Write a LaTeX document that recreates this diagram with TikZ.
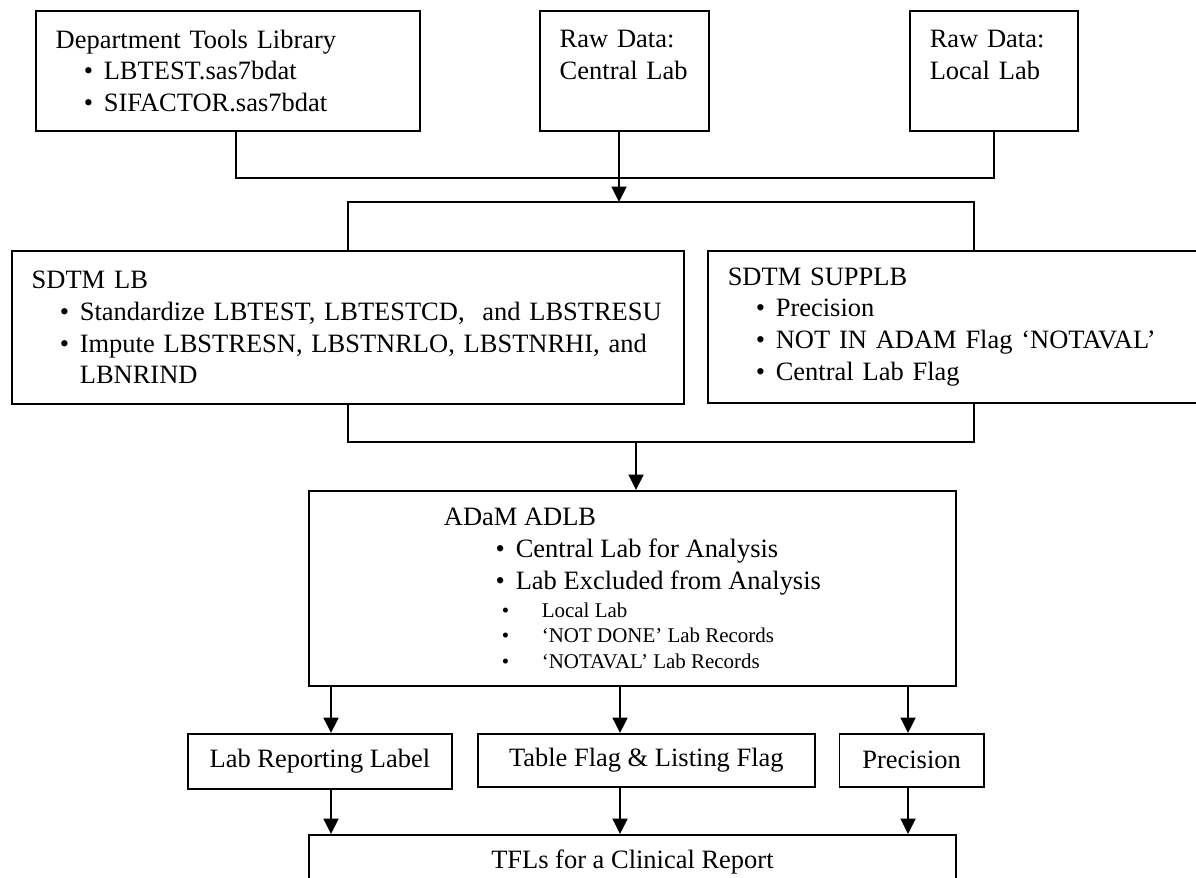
\documentclass[tikz,border=0pt]{standalone}
\usepackage{fontspec}
\setmainfont{Liberation Serif}
\usetikzlibrary{arrows.meta,positioning}
\newcommand{\itm}[2][12.7pt]{\hspace*{#1}\makebox[9.1pt][l]{\textbullet}#2}
\newcommand{\smallfnt}{\fontsize{9.5}{11.6}\selectfont}
\newcommand{\subitm}[1]{{\smallfnt\hspace*{26.3pt}\makebox[18.1pt][l]{\textbullet}#1}}

\begin{document}
\begin{tikzpicture}[x=0.4533pt,y=-0.4533pt,font=\fontsize{12}{14.4}\selectfont,
  bx/.style={draw,line width=0.8pt,anchor=north west,inner sep=0pt},
  lbx/.style={bx,align=left,inner xsep=9pt},
  cbx/.style={bx,align=center},
  ln/.style={line width=0.8pt},
  ar/.style={line width=0.8pt,-{Triangle[length=7pt,width=6.8pt]}}]
\clip (0,0) rectangle (1196,878);
\node[lbx,text width=156.1pt,minimum width=174.1pt,minimum height=54.4pt] (dept) at (35,10)
  {Department Tools Library\\\itm{LBTEST.sas7bdat}\\\itm{SIFACTOR.sas7bdat}};
\node[lbx,text width=58.6pt,minimum width=76.6pt,minimum height=54.4pt] (central) at (539,10)
  {Raw Data:\\Central Lab\\\mbox{}};
\node[lbx,text width=58.2pt,minimum width=76.2pt,minimum height=54.4pt] (local) at (909,10)
  {Raw Data:\\Local Lab\\\mbox{}};
\node[lbx,text width=286.6pt,minimum width=304.6pt,minimum height=69.4pt] (lb) at (11,250)
  {SDTM LB\\\itm{Standardize LBTEST, LBTESTCD,\ \ and LBSTRESU}\\
   \itm{Impute LBSTRESN, LBSTNRLO, LBSTNRHI, and}\\\hspace*{21.8pt}LBNRIND};
\node[lbx,text width=223.2pt,minimum width=241.2pt,minimum height=68.9pt] (supplb) at (707,250)
  {SDTM SUPPLB\\\itm{Precision}\\\itm{NOT IN ADAM Flag `NOTAVAL'}\\\itm{Central Lab Flag}};
\node[cbx,align=left,minimum width=293.3pt,minimum height=88.4pt] (adlb) at (308,490)
  {ADaM ADLB\\\itm[23.5pt]{Central Lab for Analysis}\\\itm[23.5pt]{Lab Excluded from Analysis}\\[-1.5pt]
   \subitm{Local Lab}\\[-2.9pt]\subitm{`NOT DONE' Lab Records}\\[-2.9pt]\subitm{`NOTAVAL' Lab Records}};
\node[cbx,minimum width=119.7pt,minimum height=24.9pt] (labrep) at (187,733) {Lab Reporting Label};
\node[cbx,minimum width=152.8pt,minimum height=24pt,right=10.9pt of labrep.north east,anchor=north west]
  (tflag) {Table Flag \& Listing Flag};
\node[cbx,minimum width=65.3pt,minimum height=24pt,right=10.4pt of tflag.north east,anchor=north west]
  (prec) {Precision};
\node[cbx,minimum width=293.3pt,minimum height=24.9pt] (tfl) at (308,834) {TFLs for a Clinical Report};
\coordinate (bus1) at (619,178);
\coordinate (bus2) at (619,202);
\coordinate (bus3) at (636,442);
\coordinate (c1) at (331,0);
\coordinate (c2) at (620,0);
\coordinate (c3) at (908,0);
\draw[ln] ([xshift=3.6pt]dept.south) |- (bus1) -| (local.south);
\draw[ar] (bus2 |- central.south) -- (bus2);
\draw[ln] (lb.north) |- (bus2) -| (supplb.north);
\draw[ln] (lb.south) |- (bus3) -| (supplb.south);
\draw[ar] (bus3) -- (bus3 |- adlb.north);
\draw[ar] (c1 |- adlb.south) -- (c1 |- labrep.north);
\draw[ar] (c2 |- adlb.south) -- (c2 |- tflag.north);
\draw[ar] (c3 |- adlb.south) -- (c3 |- prec.north);
\draw[ar] (c1 |- labrep.south) -- (c1 |- tfl.north);
\draw[ar] (c2 |- tflag.south) -- (c2 |- tfl.north);
\draw[ar] (c3 |- prec.south) -- (c3 |- tfl.north);
\end{tikzpicture}
\end{document}
